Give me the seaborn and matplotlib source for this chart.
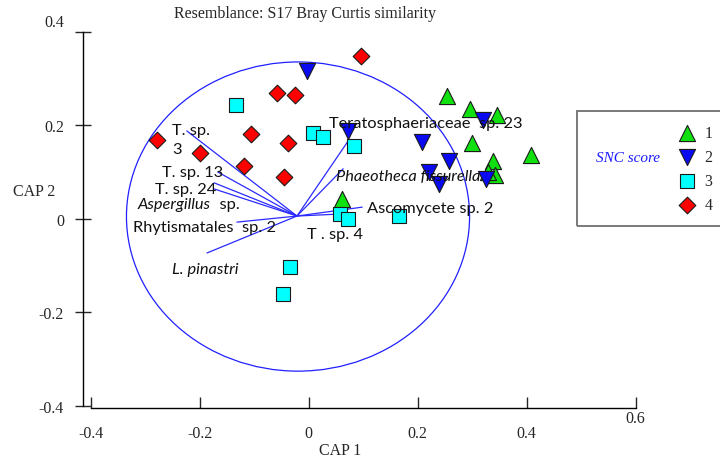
import matplotlib
matplotlib.use('Agg')
import pandas as pd
import matplotlib.pyplot as plt
import seaborn as sns
from matplotlib.patches import Ellipse, Rectangle
from matplotlib.transforms import ScaledTranslation

# CAP scores by SNC score group
g1_cap1 = [0.254, 0.296, 0.346, 0.300, 0.408, 0.338, 0.342, 0.329, 0.061]
g1_cap2 = [0.263, 0.235, 0.222, 0.162, 0.136, 0.124, 0.094, 0.100, 0.042]
g2_cap1 = [-0.003, 0.072, 0.320, 0.207, 0.257, 0.221, 0.239, 0.325]
g2_cap2 = [0.316, 0.188, 0.211, 0.164, 0.124, 0.100, 0.074, 0.085]
g3_cap1 = [-0.133, 0.008, 0.026, 0.083, 0.057, 0.072, 0.166, -0.035, -0.047]
g3_cap2 = [0.243, 0.184, 0.175, 0.156, 0.010, 0.000, 0.006, -0.103, -0.161]
g4_cap1 = [0.096, -0.058, -0.025, -0.279, -0.106, -0.200, -0.038, -0.119, -0.046]
g4_cap2 = [0.348, 0.269, 0.265, 0.168, 0.181, 0.141, 0.162, 0.113, 0.089]

# species vectors (tips), all drawn from one origin
vec_origin = (-0.0217, 0.006)
vec_names = ['T. sp.\n3', 'T. sp. 13', 'T. sp. 24', 'Aspergillus', 'Rhytismatales  sp. 2',
             'L. pinastri', 'Teratosphaeriaceae  sp. 23', 'Phaeotheca fissurella',
             'Ascomycete sp. 2', 'T . sp. 4']
vec_x = [-0.224, -0.167, -0.174, -0.174, -0.132, -0.187, 0.072, 0.063, 0.098, 0.052]
vec_y = [0.188, 0.100, 0.077, 0.064, -0.007, -0.073, 0.166, 0.107, 0.025, 0.010]

x_ticks = [-0.4, -0.2, 0, 0.2, 0.4, 0.6]
x_ticklabels = ['-0.4', '-0.2', '0', '0.2', '0.4', '0.6']
y_ticks = [-0.4, -0.2, 0, 0.2, 0.4]
y_ticklabels = ['-0.4', '-0.2', '0', '0.2', '0.4']

df = pd.DataFrame({
    'cap1': g1_cap1 + g2_cap1 + g3_cap1 + g4_cap1,
    'cap2': g1_cap2 + g2_cap2 + g3_cap2 + g4_cap2,
    'snc': ['1'] * len(g1_cap1) + ['2'] * len(g2_cap1) + ['3'] * len(g3_cap1) + ['4'] * len(g4_cap1),
})

# label placement for the vectors (left edge, vertical centre)
label_pos = [(-0.251, 0.170), (-0.270, 0.100), (-0.282, 0.063), (-0.314, 0.031),
             (-0.323, -0.018), (-0.251, -0.107), (0.037, 0.205), (0.050, 0.092),
             (0.107, 0.023), (-0.003, -0.033)]
italic_names = ['Aspergillus', 'L. pinastri', 'Phaeotheca fissurella']

sns.set_style('white')
plt.rcParams['font.family'] = ['Liberation Serif', 'DejaVu Serif']
plt.rcParams['axes.unicode_minus'] = False

fig = plt.figure(figsize=(7.2, 4.64), dpi=100)
ax = fig.add_axes([0, 0, 1, 1])
ax.set_facecolor('white')

styles = {
    '1': dict(marker='^', s=135, color='#10E010'),
    '2': dict(marker='v', s=135, color='#0A0AF0'),
    '3': dict(marker='s', s=88, color='#00FFFF'),
    '4': dict(marker='D', s=72, color='#FF0000'),
}
for grp, st in styles.items():
    sub = df[df['snc'] == grp]
    sns.scatterplot(data=sub, x='cap1', y='cap2', ax=ax, label=grp,
                    edgecolor='#1a1a1a', linewidth=0.8, zorder=3, **st)

# correlation circle
ax.add_patch(Ellipse((-0.0198, 0.0049), 0.630, 0.661, fill=False,
                     edgecolor='#2020FF', lw=0.9, zorder=2))

# vectors and their labels
lab_font = ['Lato', 'DejaVu Sans']
for name, tx, ty, (lx, ly) in zip(vec_names, vec_x, vec_y, label_pos):
    ax.plot([vec_origin[0], tx], [vec_origin[1], ty], color='#2a2aff', lw=0.9, zorder=2)
    style = 'italic' if name in italic_names else 'normal'
    t = ax.text(lx, ly, name, family=lab_font, fontsize=11.8, style=style,
                ha='left', va='center', linespacing=1.45, color='#111111', zorder=4)
    if name == 'Aspergillus':
        ax.annotate('  sp.', xy=(1, 0.5), xycoords=t, family=lab_font,
                    fontsize=11.8, ha='left', va='center', color='#111111')

ax.set_xlim(-0.567, 0.755)
ax.set_ylim(-0.522, 0.470)

for side in ['top', 'right']:
    ax.spines[side].set_visible(False)
ax.spines['left'].set_position(('data', -0.4146))
ax.spines['left'].set_bounds(-0.4, 0.4)
ax.spines['bottom'].set_position(('data', -0.4047))
ax.spines['bottom'].set_bounds(-0.4, 0.6)
for side in ['left', 'bottom']:
    ax.spines[side].set_color('black')
    ax.spines[side].set_linewidth(1.0)

ax.set_xticks(x_ticks, x_ticklabels)
ax.set_yticks(y_ticks, y_ticklabels)
ax.tick_params(axis='y', direction='inout', length=11.5, width=1.0, pad=8, labelsize=11.5,
               left=True)
ax.tick_params(axis='x', direction='in', length=8, width=1.0, pad=12, labelsize=11.5,
               bottom=True)
ax.set_xlabel('')
ax.set_ylabel('')

# odd label offsets seen in the reference
ylabs = ax.get_yticklabels()
ylabs[-1].set_transform(ylabs[-1].get_transform() + ScaledTranslation(0, 12 / 100, fig.dpi_scale_trans))
xlabs = ax.get_xticklabels()
xlabs[-1].set_transform(xlabs[-1].get_transform() + ScaledTranslation(0, 15 / 100, fig.dpi_scale_trans))

ax.text(0.424, 0.970, 'Resemblance: S17 Bray Curtis similarity', transform=ax.transAxes,
        ha='center', va='center', fontsize=11.5)
ax.text(0.047, 0.586, 'CAP 2', transform=ax.transAxes, ha='center', va='center', fontsize=11.5)
ax.text(0.472, 0.028, 'CAP 1', transform=ax.transAxes, ha='center', va='center', fontsize=11.5)

# legend box
ax.add_patch(Rectangle((0.8014, 0.5108), 0.25, 0.2478, transform=ax.transAxes, fill=False,
                       edgecolor='#707070', lw=1.3, clip_on=False, zorder=5))
ax.text(0.872, 0.659, 'SNC score', transform=ax.transAxes, ha='center', va='center',
        fontsize=11, style='italic', color='#1a1aff')
ax.legend(loc='upper left', bbox_to_anchor=(0.943, 0.728), bbox_transform=ax.transAxes,
          frameon=False, borderpad=0, handlelength=1.0, handletextpad=0.6,
          labelspacing=0.5, fontsize=11.5, borderaxespad=0)

fig.savefig('out.png', dpi=100)
